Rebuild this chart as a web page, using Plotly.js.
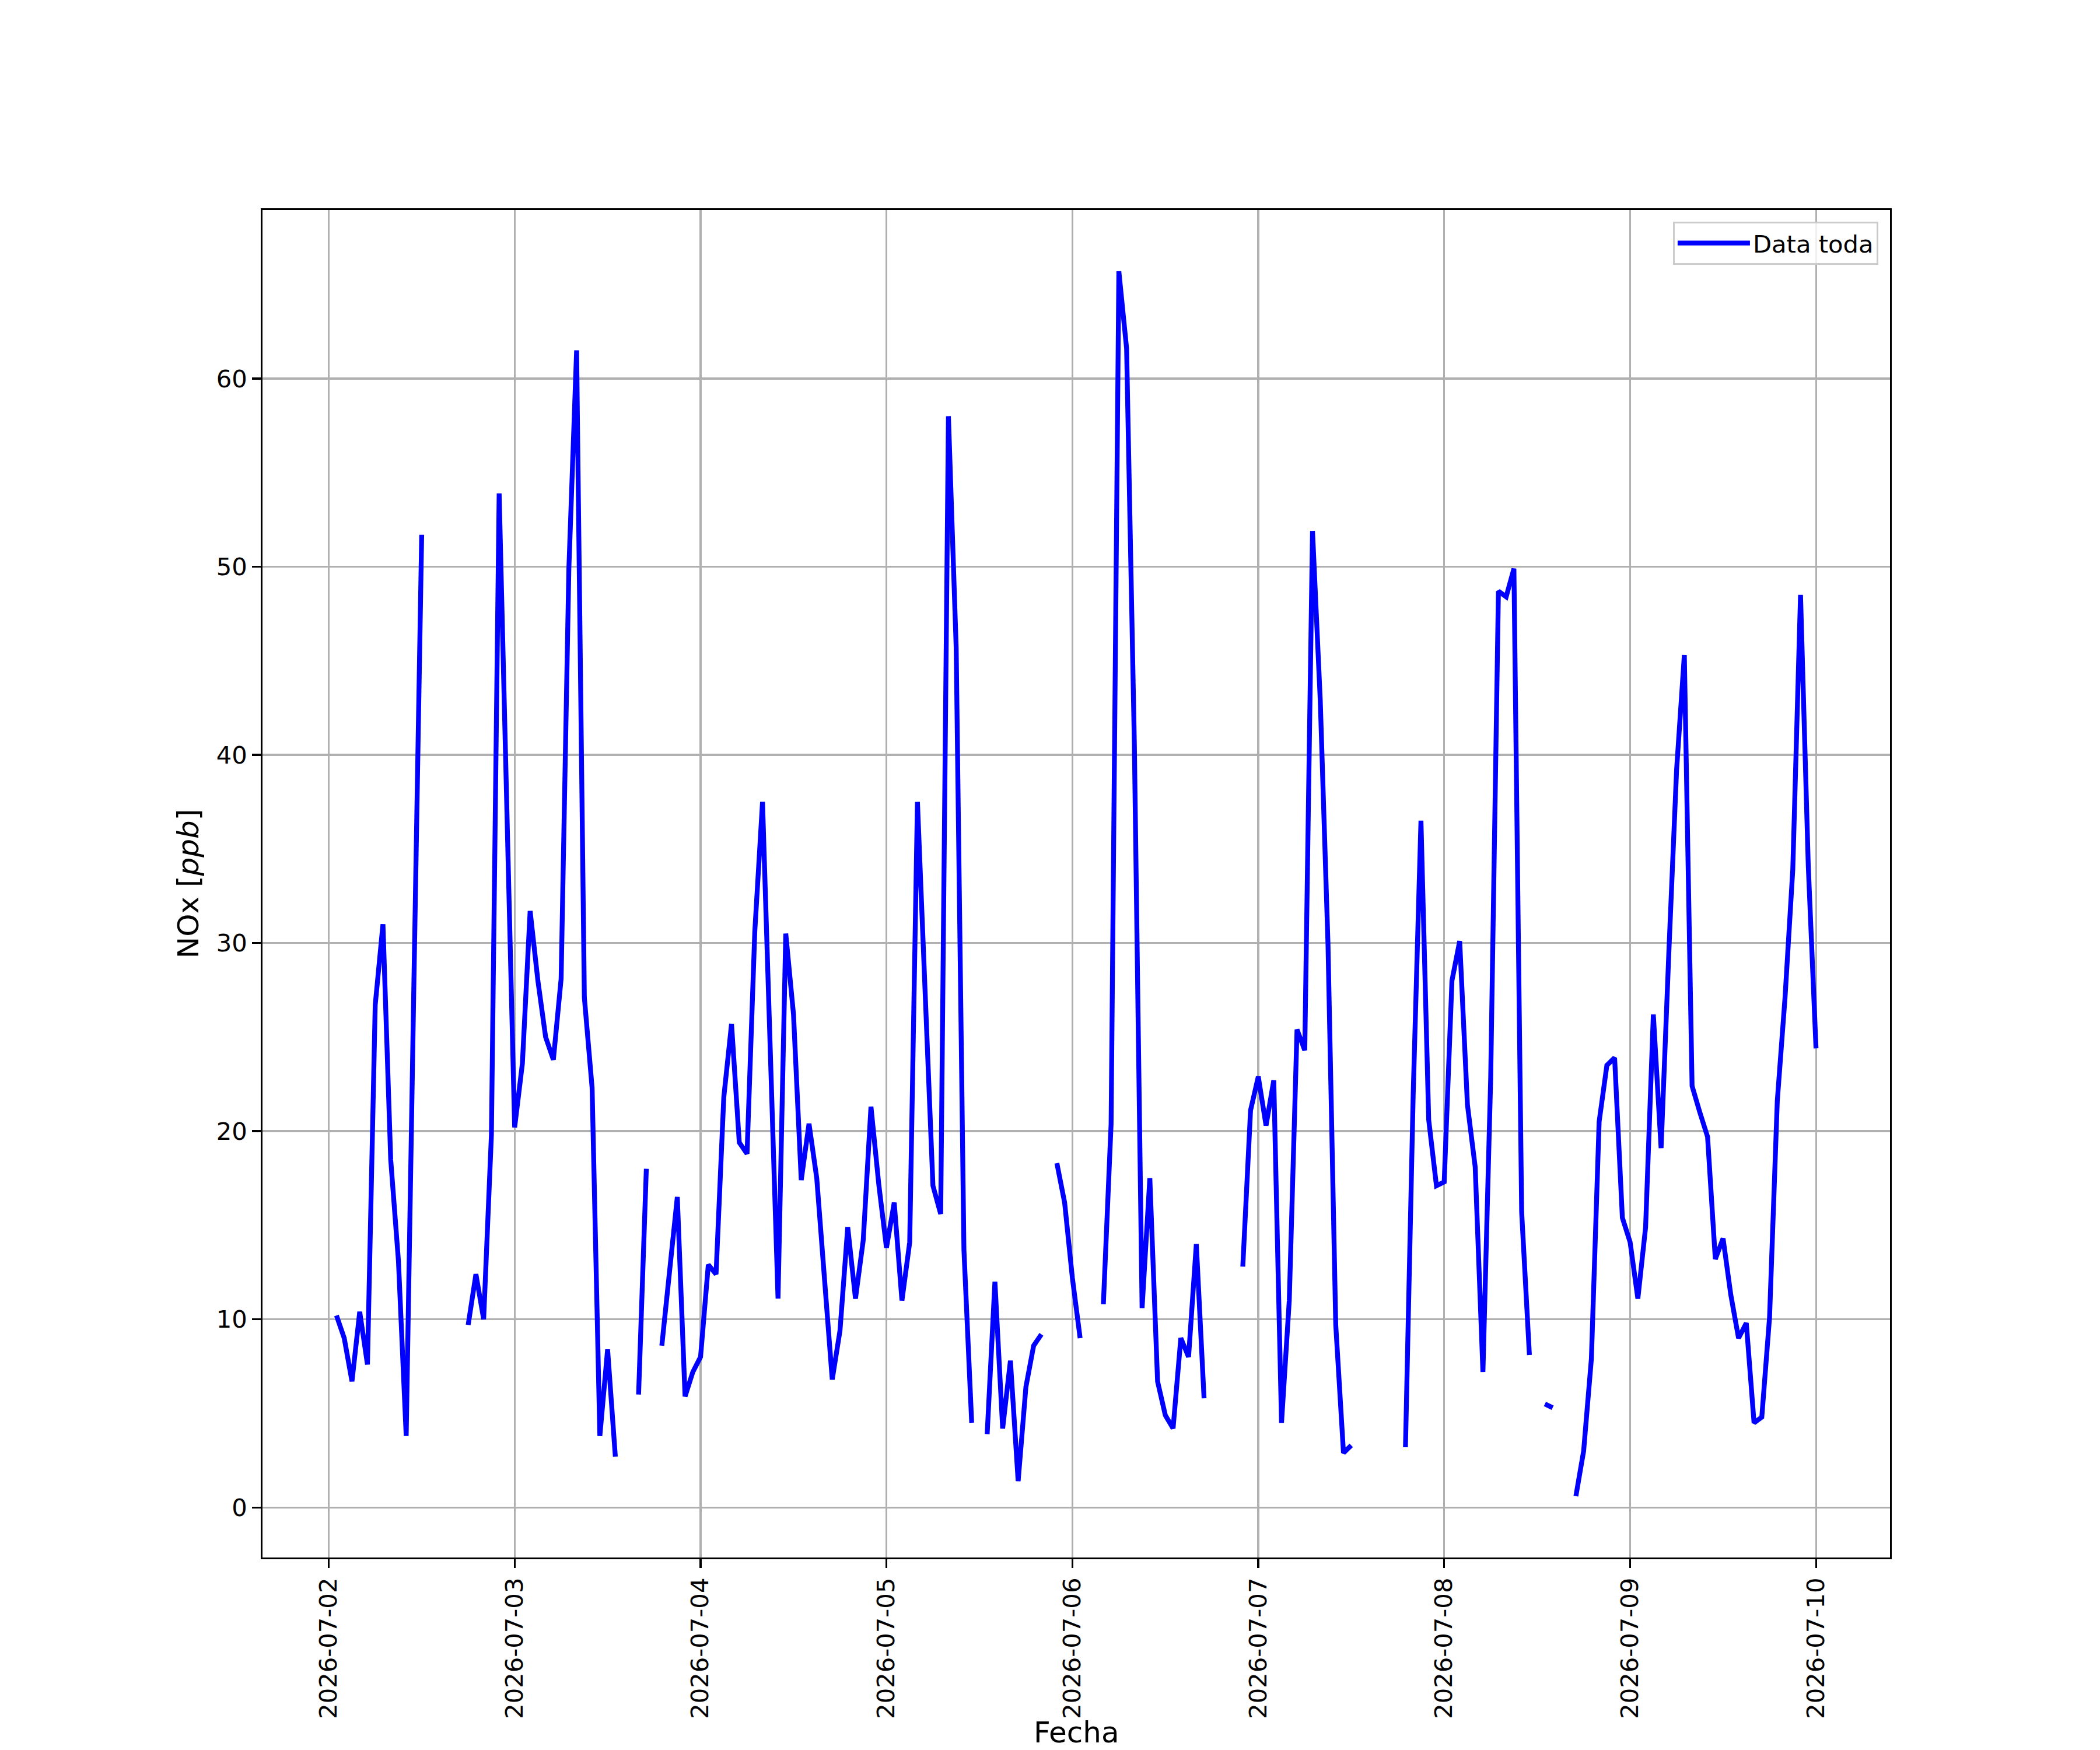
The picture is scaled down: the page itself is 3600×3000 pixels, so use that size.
<!DOCTYPE html>
<html>
<head>
<meta charset="utf-8">
<script src="https://cdn.plot.ly/plotly-3.0.1.min.js"></script>
<style>
  body { margin: 0; background: white; }
  #chart { width: 3600px; height: 3000px; }
</style>
</head>
<body>
<div id="chart"></div>
<script>
// hourly NOx readings, one array per day (index = hour), null = no data
const days = ['2026-07-02', '2026-07-03', '2026-07-04', '2026-07-05', '2026-07-06',
              '2026-07-07', '2026-07-08', '2026-07-09', '2026-07-10'];

const nox0702 = [null, 10.2, 9.0, 6.7, 10.4, 7.6, 26.7, 31.0, 18.5, 13.1, 3.8, 28.0,
                 51.7, null, null, null, null, null, 9.7, 12.4, 10.0, 19.8, 53.9, 37.0];
const nox0703 = [20.2, 23.6, 31.7, 28.0, 25.0, 23.8, 28.1, 49.9, 61.5, 27.1, 22.3, 3.8,
                 8.4, 2.7, null, null, 6.0, 18.0, null, 8.6, 12.6, 16.5, 5.9, 7.2];
const nox0704 = [8.0, 12.9, 12.4, 21.8, 25.7, 19.4, 18.8, 30.6, 37.5, 24.3, 11.1, 30.5,
                 26.2, 17.4, 20.4, 17.5, 12.1, 6.8, 9.4, 14.9, 11.1, 14.2, 21.3, 17.2];
const nox0705 = [13.8, 16.2, 11.0, 14.1, 37.5, 27.1, 17.1, 15.6, 58.0, 45.7, 13.7, 4.5,
                 null, 3.9, 12.0, 4.2, 7.8, 1.4, 6.4, 8.6, 9.2, null, 18.3, 16.2];
const nox0706 = [12.2, 9.0, null, null, 10.8, 20.4, 65.7, 61.6, 40.6, 10.6, 17.5, 6.7,
                 4.9, 4.2, 9.0, 8.0, 14.0, 5.8, null, null, null, null, 12.8, 21.1];
const nox0707 = [22.9, 20.3, 22.7, 4.5, 11.0, 25.4, 24.3, 51.9, 42.9, 29.9, 9.7, 2.9,
                 3.3, null, null, null, null, null, null, 3.2, 22.0, 36.5, 20.6, 17.1];
const nox0708 = [17.3, 28.0, 30.1, 21.4, 18.1, 7.2, 22.8, 48.7, 48.4, 49.9, 15.7, 8.1,
                 null, 5.5, 5.3, null, null, 0.6, 3.0, 7.9, 20.5, 23.5, 23.9, 15.4];
const nox0709 = [14.1, 11.1, 14.9, 26.2, 19.1, 29.5, 39.2, 45.3, 22.4, 21.0, 19.7, 13.2,
                 14.3, 11.3, 9.0, 9.8, 4.5, 4.8, 10.1, 21.6, 27.1, 33.9, 48.5, 34.1];
const nox0710 = [24.4];

const byDay = [nox0702, nox0703, nox0704, nox0705, nox0706, nox0707, nox0708, nox0709, nox0710];

const fechas = [];
const nox = [];
days.forEach((d, i) => {
    byDay[i].forEach((v, h) => {
        fechas.push(d + ' ' + String(h).padStart(2, '0') + ':00');
        nox.push(v);
    });
});

const trace = {
    x: fechas,
    y: nox,
    type: 'scatter',
    mode: 'lines',
    name: 'Data toda',
    line: {color: '#0000ff', width: 8.3},
    connectgaps: false
};

const gridc = '#b0b0b0';
const layout = {
    width: 3600,
    height: 3000,
    margin: {l: 450, r: 360, t: 360, b: 330, pad: 0},
    paper_bgcolor: 'white',
    plot_bgcolor: 'white',
    font: {family: 'DejaVu Sans', size: 41.7, color: 'black'},
    showlegend: true,
    legend: {
        x: 0.9928, y: 0.9913, xanchor: 'right', yanchor: 'top',
        bgcolor: 'rgba(255,255,255,0.8)',
        bordercolor: '#cccccc',
        borderwidth: 3,
        itemwidth: 124,
        font: {size: 41.7}
    },
    xaxis: {
        type: 'date',
        range: ['2026-07-01 15:27', '2026-07-10 09:33'],
        tick0: '2026-07-02',
        dtick: 86400000,
        tickformat: '%Y-%m-%d',
        tickangle: -90,
        ticks: 'outside', ticklen: 14.6, tickwidth: 3.3, tickcolor: 'black',
        showgrid: true, gridcolor: gridc, gridwidth: 3.3,
        showline: true, linecolor: 'black', linewidth: 3.3, mirror: true,
        zeroline: false,
        automargin: false
    },
    yaxis: {
        range: [-2.66, 68.96],
        tick0: 0,
        dtick: 10,
        ticks: 'outside', ticklen: 14.6, tickwidth: 3.3, tickcolor: 'black',
        showgrid: true, gridcolor: gridc, gridwidth: 3.3,
        showline: true, linecolor: 'black', linewidth: 3.3, mirror: true,
        zeroline: false,
        automargin: false,
        title: {text: 'NOx [<i>ppb</i>]', font: {size: 50}, standoff: 15}
    },
    // x title sits lower than plotly allows inside the margin, so place it by hand
    annotations: [{
        text: 'Fecha',
        xref: 'paper', yref: 'paper',
        x: 0.5, y: -0.1428,
        xanchor: 'center', yanchor: 'bottom',
        borderpad: 0,
        showarrow: false,
        font: {size: 50}
    }]
};

const config = {displayModeBar: false, staticPlot: true};

Plotly.newPlot('chart', [trace], layout, config);
</script>
</body>
</html>
